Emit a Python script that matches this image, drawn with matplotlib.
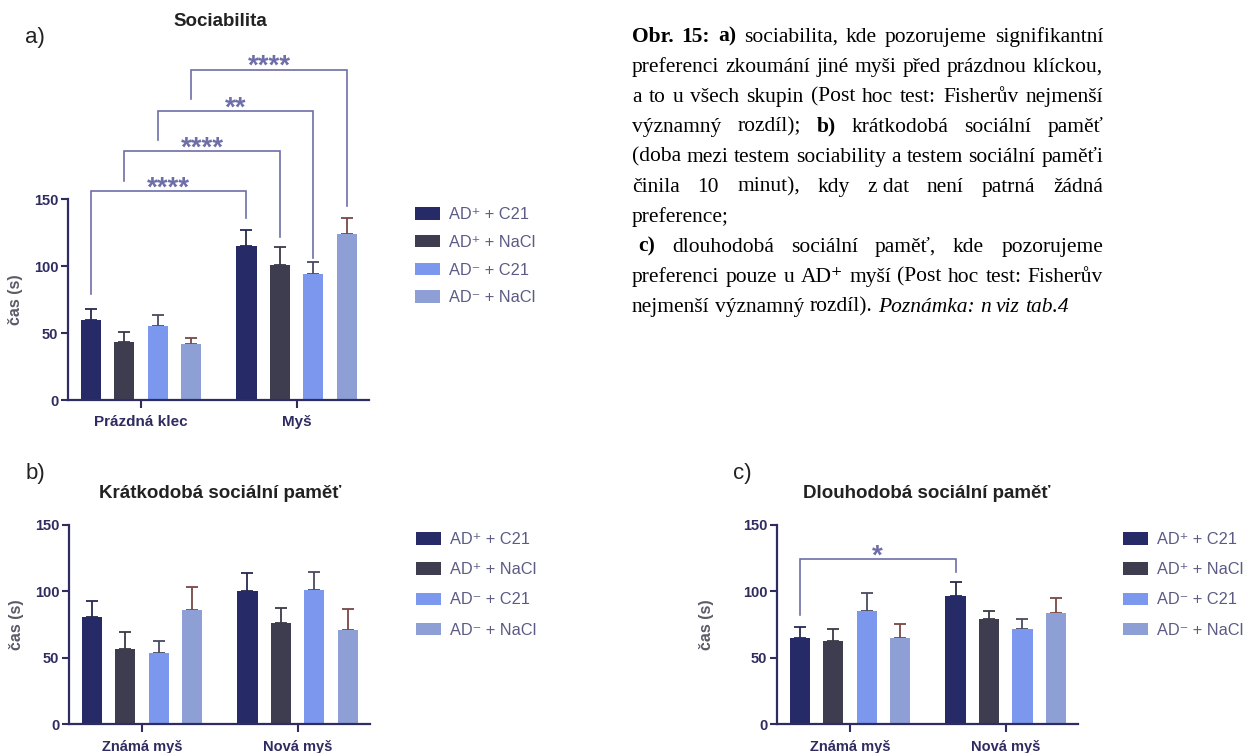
import matplotlib.pyplot as plt
import numpy as np

plt.rcParams['font.family'] = ['Liberation Sans', 'DejaVu Sans']

W, H = 1254, 753

series = ['AD⁺ + C21', 'AD⁺ + NaCl', 'AD⁻ + C21', 'AD⁻ + NaCl']
bar_colors = ['#262a66', '#3e3d50', '#7b97ee', '#8e9fd5']
err_colors = ['#262a50', '#3a3a48', '#4a4a60', '#7a4848']

groups_a = ['Prázdná klec', 'Myš']
groups_bc = ['Známá myš', 'Nová myš']

# one row per series, one column per group
soc_mean = [[60, 115], [43.5, 101], [55.5, 94], [42, 124]]
soc_err = [[8.2, 12], [7.5, 13], [8.2, 9], [4.5, 12]]

short_mean = [[80.7, 100.5], [56.7, 76.2], [53.9, 101], [85.8, 70.7]]
short_err = [[12.1, 13.1], [12.5, 11.3], [9, 13.4], [17.8, 16.3]]

long_mean = [[65.2, 96.5], [62.4, 79], [85.2, 71.5], [64.7, 83.5]]
long_err = [[8.3, 10.3], [9.3, 6.2], [13.3, 7.7], [10.8, 11.3]]

# (series, top, left end, right end, label) - bracket from group 0 to group 1
soc_brackets = [(0, 156, 79, 136, '****'),
                (1, 186, 164, 122, '****'),
                (2, 216, 194, 106, '**'),
                (3, 247, 225, 145, '****')]
long_brackets = [(0, 124.4, 82.2, 114.8, '*')]

axis_col = '#2e2c60'
tick_col = '#2b2b5c'
br_col = '#6e6ea8'
leg_col = '#5b5b85'

PITCH = 0.215
BAR_W = 0.13
XLIM = (-0.47, 1.465)


def px(x, y):
    return x / W, 1 - y / H


def make_axes(fig, left, right, top, bottom):
    return fig.add_axes([left / W, 1 - bottom / H, (right - left) / W, (bottom - top) / H])


def bar_panel(ax, groups, means, errs, xlab_size, ylab_x):
    xg = np.arange(len(groups))
    handles = []
    for i in range(len(series)):
        x = xg + (i - 1.5) * PITCH
        b = ax.bar(x, means[i], BAR_W, color=bar_colors[i], zorder=2)
        ax.errorbar(x, means[i], yerr=[np.zeros(len(groups)), errs[i]], fmt='none',
                    ecolor=err_colors[i], elinewidth=1.3, capsize=4.5, capthick=1.3, zorder=1)
        handles.append(b)
    ax.set_xlim(*XLIM)
    ax.set_ylim(0, 150)
    ax.set_yticks([0, 50, 100, 150])
    ax.set_xticks(xg)
    ax.set_xticklabels(groups, fontweight='bold', fontsize=xlab_size, color=tick_col)
    for lab in ax.get_yticklabels():
        lab.set_fontweight('bold')
        lab.set_fontsize(10.5)
        lab.set_color(tick_col)
    for s in ['top', 'right']:
        ax.spines[s].set_visible(False)
    for s in ['left', 'bottom']:
        ax.spines[s].set_color(axis_col)
        ax.spines[s].set_linewidth(1.6)
    ax.tick_params(axis='y', colors=axis_col, width=1.5, length=5, pad=2)
    ax.tick_params(axis='x', colors=axis_col, width=1.5, length=6, pad=5)
    ax.set_ylabel('čas (s)', fontweight='bold', fontsize=11.5, color='#5a5a68')
    ax.yaxis.set_label_coords(ylab_x, 0.5)
    ax.set_facecolor('none')
    return handles


def brackets(ax, items, size):
    for i, top, yl, yr, lab in items:
        xl = 0 + (i - 1.5) * PITCH
        xr = 1 + (i - 1.5) * PITCH
        ax.plot([xl, xl, xr, xr], [yl, top, top, yr], color=br_col, lw=1.2,
                clip_on=False, zorder=3, solid_joinstyle='miter')
        ax.annotate(lab, xy=((xl + xr) / 2, top), xytext=(0, -3), textcoords='offset points',
                    ha='center', va='baseline', fontsize=size, fontweight='bold',
                    color=br_col, annotation_clip=False)


def legend(ax, handles, x, y, ls):
    ax.legend(handles, series, loc='upper left', bbox_to_anchor=px(x, y),
              bbox_transform=ax.figure.transFigure, frameon=False, fontsize=11.8,
              handlelength=1.5, handleheight=0.8, labelspacing=ls, handletextpad=0.6,
              borderpad=0, borderaxespad=0, labelcolor=leg_col)


fig = plt.figure(figsize=(W / 100, H / 100), dpi=100)

# panel a
ax_a = make_axes(fig, 68, 369, 199.3, 400)
h = bar_panel(ax_a, groups_a, soc_mean, soc_err, 11, -0.15)
brackets(ax_a, soc_brackets, 20)
legend(ax_a, h, 415, 207, 0.78)
fig.text(*px(220, 22), 'Sociabilita', ha='center', va='center', fontsize=13.5, fontweight='bold', color='#222222')
fig.text(*px(25, 38), 'a)', ha='left', va='center', fontsize=16, color='#222222')

# panel b
ax_b = make_axes(fig, 69, 370, 525, 724.3)
h = bar_panel(ax_b, groups_bc, short_mean, short_err, 10.5, -0.15)
legend(ax_b, h, 416, 532, 0.93)
fig.text(*px(220, 493), 'Krátkodobá sociální paměť', ha='center', va='center', fontsize=13.5, fontweight='bold', color='#222222')
fig.text(*px(26, 473), 'b)', ha='left', va='center', fontsize=16, color='#222222')

# panel c
ax_c = make_axes(fig, 777, 1078, 525, 724.3)
h = bar_panel(ax_c, groups_bc, long_mean, long_err, 10.5, -0.21)
brackets(ax_c, long_brackets, 20)
legend(ax_c, h, 1123, 532, 0.93)
fig.text(*px(927, 493), 'Dlouhodobá sociální paměť', ha='center', va='center', fontsize=13.5, fontweight='bold', color='#222222')
fig.text(*px(733, 473), 'c)', ha='left', va='center', fontsize=16, color='#222222')


# caption, justified by hand; '~' keeps two words together
def words(s, st='n'):
    return [(w.replace('~', '\u00a0'), st) for w in s.split(' ')]


caption = [
    (words('Obr. 15: a)', 'b') + words('sociabilita, kde pozorujeme signifikantní'), True, 0),
    (words('preferenci zkoumání jiné myši před prázdnou klíckou,'), True, 0),
    (words('a to u všech skupin (Post hoc test: Fisherův nejmenší'), True, 0),
    (words('významný rozdíl);') + words('b)', 'b') + words('krátkodobá sociální paměť'), True, 0),
    (words('(doba mezi testem sociability a testem sociální paměťi'), True, 0),
    (words('činila 10 minut), kdy z~dat není patrná žádná'), True, 0),
    (words('preference;'), False, 0),
    (words('c)', 'b') + words('dlouhodobá sociální paměť, kde pozorujeme'), True, 6),
    (words('preferenci pouze u AD⁺ myší (Post hoc test: Fisherův'), True, 0),
    (words('nejmenší významný rozdíl).') + words('Poznámka: n viz tab.4', 'i'), False, 0),
]

renderer = fig.canvas.get_renderer()
x0, x1 = 632, 1103
size = 15.5
space = 0.25 * size * 100 / 72
for k, (tokens, justify, indent) in enumerate(caption):
    yb = 41.7 + k * 30
    objs = []
    for word, st in tokens:
        fam = ['Liberation Serif', 'DejaVu Serif'] if '⁺' in word else 'Liberation Serif'
        t = fig.text(*px(0, yb), word, fontsize=size, family=fam,
                     fontweight='bold' if st == 'b' else 'normal',
                     fontstyle='italic' if st == 'i' else 'normal', va='baseline', ha='left')
        objs.append(t)
    widths = [t.get_window_extent(renderer).width for t in objs]
    start = x0 + indent
    if justify and len(objs) > 1:
        gap = (x1 - start - sum(widths)) / (len(objs) - 1)
    else:
        gap = space
    x = start
    for t, w in zip(objs, widths):
        t.set_position(px(x, yb))
        x += w + gap

fig.savefig('out.png', dpi=100)
